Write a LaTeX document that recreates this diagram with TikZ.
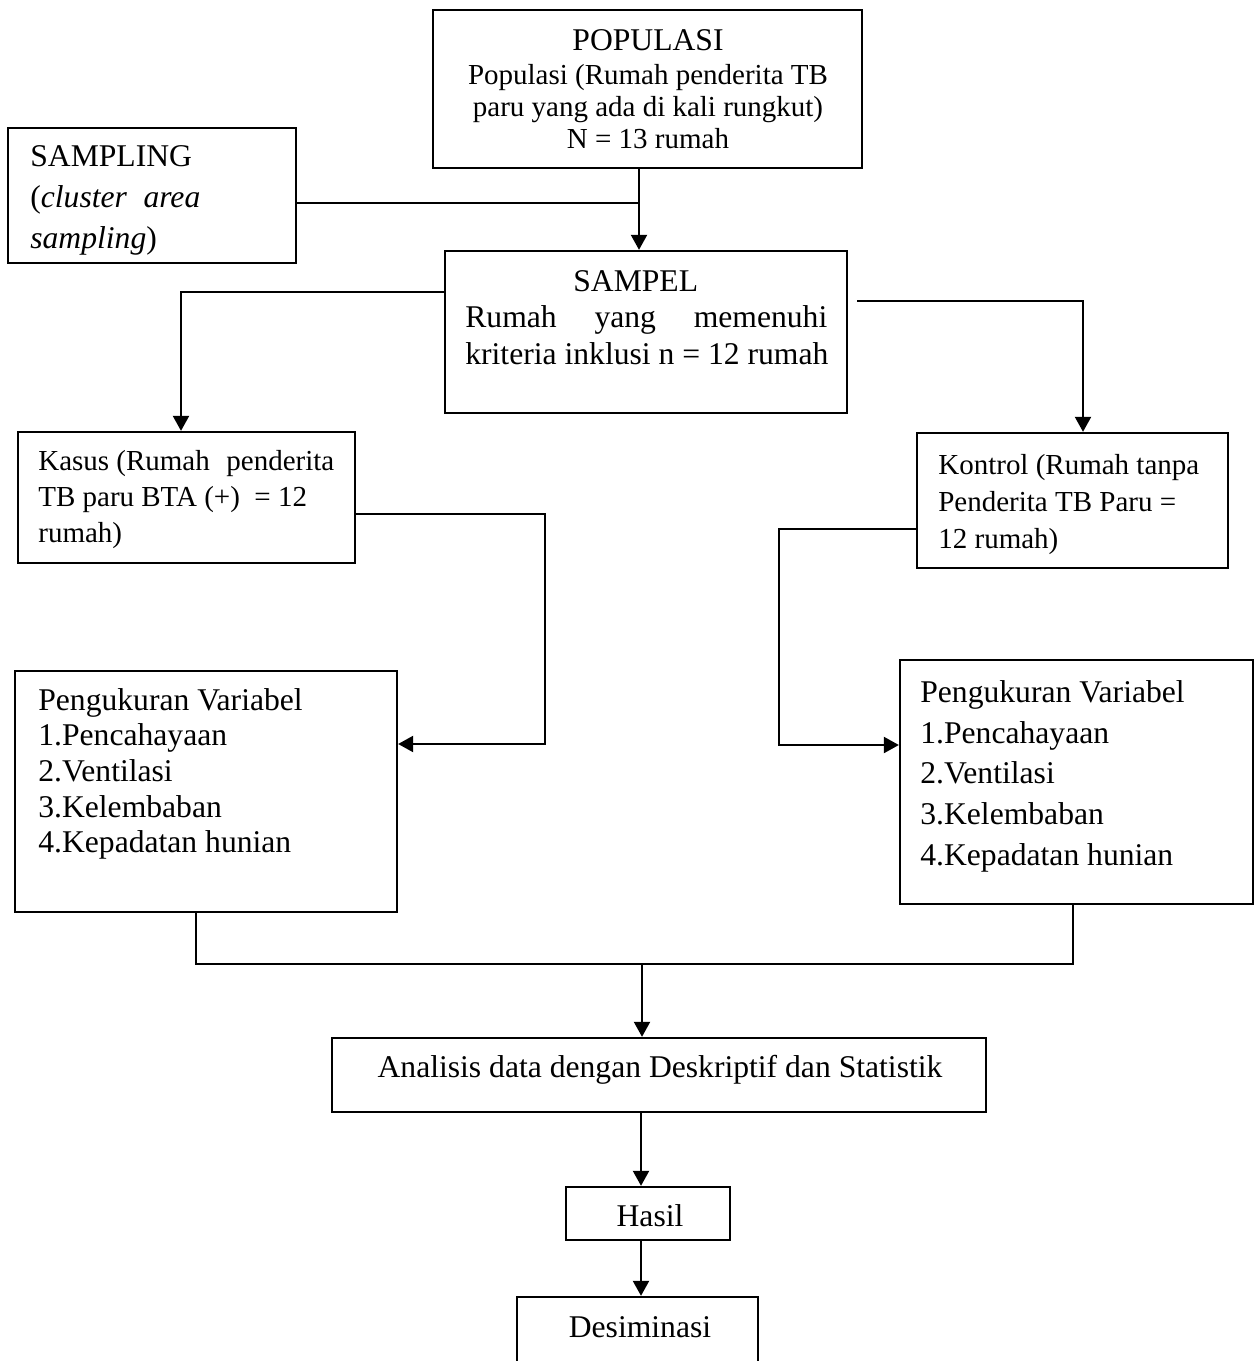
\documentclass[tikz,border=0pt]{standalone}
\usepackage{fontspec}
\setmainfont{Liberation Serif}
\usetikzlibrary{arrows.meta}

\begin{document}
\begin{tikzpicture}[x=0.02cm, y=-0.02cm,
  box/.style={rectangle, draw, line width=1.35pt, inner sep=0pt},
  txt/.style={inner sep=0pt, align=left},
  big/.style={font=\fontsize{18}{20.5}\selectfont},
  small/.style={font=\fontsize{16.5}{20.5}\selectfont},
  line/.style={line width=1.25pt},
  arr/.style={line width=1.25pt, -{Triangle[length=0.3cm,width=0.32cm]}}]
  \useasboundingbox (0,0) rectangle (1255,1361);
  \clip (0,0) rectangle (1255,1361);

  % Top: populasi, sampling, sampel
  \node[box, minimum width=8.58cm, minimum height=3.16cm] (pop) at (647.5, 89) {};
  \node[txt, align=center, anchor=north, font=\fontsize{16.5}{18.2}\selectfont] (pop-txt) at (648, 29)
    {{\fontsize{18}{20}\selectfont POPULASI}\\[1.4pt] Populasi (Rumah penderita TB\\ paru yang ada di kali rungkut)\\ N = 13 rumah};

  \node[box, minimum width=5.76cm, minimum height=2.70cm] (sampling) at (152, 195.5) {};
  \node[txt, anchor=north west, font=\fontsize{18}{23.3}\selectfont] (sampling-txt) at (30, 145)
    {SAMPLING\\ \makebox[3.4cm][s]{(\textit{cluster} \textit{area}}\\ \textit{sampling})};

  \node[box, minimum width=8.04cm, minimum height=3.24cm] (sampel) at (646, 332) {};
  \node[txt, anchor=north west, font=\fontsize{18}{20.8}\selectfont] (sampel-txt) at (465, 270)
    {\hspace*{2.16cm}SAMPEL\\ \makebox[7.24cm][s]{Rumah yang memenuhi}\\ kriteria inklusi n = 12 rumah};

  \coordinate (j1) at (639, 203);
  \draw[arr] (pop.south -| j1) -- (sampel.north -| j1);
  \draw[line] (sampling.east |- j1) -- (j1);

  % Middle: kasus and kontrol
  \node[box, minimum width=6.74cm, minimum height=2.62cm] (kasus) at (186.5, 497.5) {};
  \node[txt, small, anchor=north west] (kasus-txt) at (38, 450)
    {\makebox[5.92cm][l]{Kasus (Rumah\hfill penderita}\\ TB paru BTA (+) \ = 12\\ rumah)};

  \node[box, minimum width=6.22cm, minimum height=2.70cm] (kontrol) at (1072.5, 500.5) {};
  \node[txt, anchor=north west, font=\fontsize{16.5}{21}\selectfont] (kontrol-txt) at (938, 454)
    {Kontrol (Rumah tanpa\\ Penderita TB Paru =\\ 12 rumah)};

  \coordinate (lk) at (181, 292);
  \coordinate (rk0) at (857, 301);
  \coordinate (rk) at (1083, 301);
  \draw[arr] (sampel.west |- lk) -| (kasus.north -| lk);
  \draw[arr] (rk0) -| (kontrol.north -| rk);

  % Pengukuran variabel
  \node[box, minimum width=7.64cm, minimum height=4.82cm] (ukurL) at (206, 791.5) {};
  \node[txt, anchor=north west, font=\fontsize{18}{20.3}\selectfont] (ukurL-txt) at (38, 688)
    {Pengukuran Variabel\\ 1.Pencahayaan\\ 2.Ventilasi\\ 3.Kelembaban\\ 4.Kepadatan hunian};

  \node[box, minimum width=7.06cm, minimum height=4.88cm] (ukurR) at (1076.5, 782) {};
  \node[txt, anchor=north west, font=\fontsize{18}{23.2}\selectfont] (ukurR-txt) at (920, 680)
    {Pengukuran Variabel\\ 1.Pencahayaan\\ 2.Ventilasi\\ 3.Kelembaban\\ 4.Kepadatan hunian};

  \coordinate (lb1) at (545, 514);
  \coordinate (lb2) at (545, 744);
  \coordinate (rb1) at (779, 529);
  \coordinate (rb2) at (779, 745);
  \draw[arr] (kasus.east |- lb1) -- (lb1) -- (lb2) -- (ukurL.east |- lb2);
  \draw[arr] (kontrol.west |- rb1) -- (rb1) -- (rb2) -- (ukurR.west |- rb2);

  % Bottom: analisis, hasil, desiminasi
  \coordinate (ml) at (196, 964);
  \coordinate (mr) at (1073, 964);
  \coordinate (mm) at (642, 964);
  \coordinate (cx) at (641, 1150);

  \node[box, minimum width=13.08cm, minimum height=1.48cm] (analisis) at (659, 1075) {};
  \node[txt, big, anchor=base] (analisis-txt) at (660, 1077) {Analisis data dengan Deskriptif dan Statistik};

  \node[box, minimum width=3.28cm, minimum height=1.06cm] (hasil) at (648, 1213.5) {};
  \node[txt, big, anchor=base] (hasil-txt) at (650, 1226) {Hasil};

  \node[box, minimum width=4.82cm, minimum height=2.46cm] (desim) at (637.5, 1358.5) {};
  \node[txt, big, anchor=base] (desim-txt) at (640, 1337) {Desiminasi};

  \draw[line] (ukurL.south -| ml) -- (ml) -- (mr) -- (ukurR.south -| mr);
  \draw[arr] (mm) -- (analisis.north -| mm);
  \draw[arr] (analisis.south -| cx) -- (hasil.north -| cx);
  \draw[arr] (hasil.south -| cx) -- (desim.north -| cx);
\end{tikzpicture}
\end{document}
